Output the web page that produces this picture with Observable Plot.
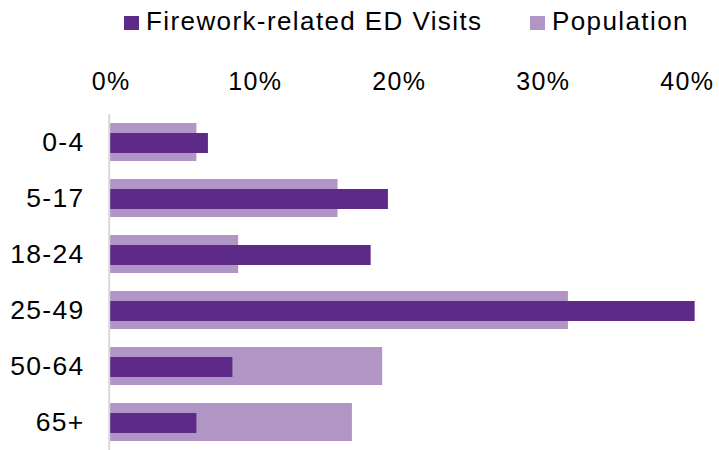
<!DOCTYPE html>
<html>
<head>
<meta charset="utf-8">
<script src="https://cdn.jsdelivr.net/npm/d3@7"></script>
<script src="https://cdn.jsdelivr.net/npm/@observablehq/plot@0.6"></script>
<style>
  html, body { margin: 0; padding: 0; background: #fff; }
  body { width: 719px; height: 450px; overflow: hidden; font-family: "Liberation Sans", Arial, sans-serif; }
  #legend { height: 42px; position: relative; font-size: 26px; letter-spacing: 1.4px; color: #000; }
  .item { position: absolute; top: 0; height: 42px; line-height: 42px; white-space: nowrap; }
  .sw { display: inline-block; width: 15px; height: 14px; margin-right: 7px; vertical-align: 0px; }
  svg { display: block; }
</style>
</head>
<body>
<div id="legend"></div>
<div id="chart"></div>
<script>
const ageGroups = ["0-4", "5-17", "18-24", "25-49", "50-64", "65+"];
const edVisits = [0.068, 0.193, 0.181, 0.406, 0.085, 0.060];
const population = [0.060, 0.158, 0.089, 0.318, 0.189, 0.168];
const xTicks = [0, 0.1, 0.2, 0.3, 0.4];
const seriesNames = ["Firework-related ED Visits", "Population"];
const seriesColors = ["#5e2a88", "#b095c5"];

const popData = ageGroups.map((g, i) => ({group: g, value: population[i]}));
const edData = ageGroups.map((g, i) => ({group: g, value: edVisits[i]}));

// legend
const legend = document.getElementById("legend");
const legendLeft = [124, 530];
seriesNames.forEach((name, i) => {
  const item = document.createElement("div");
  item.className = "item";
  item.style.left = legendLeft[i] + "px";
  const sw = document.createElement("span");
  sw.className = "sw";
  sw.style.background = seriesColors[i];
  item.appendChild(sw);
  item.appendChild(document.createTextNode(name));
  legend.appendChild(item);
});

const chart = Plot.plot({
  width: 719,
  height: 408,
  marginTop: 72,
  marginBottom: 0,
  marginLeft: 110,
  marginRight: 4.2,
  style: {fontFamily: "'Liberation Sans', Arial, sans-serif", color: "#000", background: "#fff", letterSpacing: "1.3px"},
  x: {domain: [0, 0.42], axis: null},
  y: {domain: ageGroups, padding: 0, axis: null},
  marks: [
    Plot.axisX({anchor: "top", ticks: xTicks, tickSize: 0, tickPadding: 25, fontSize: 25, dx: 0.7,
      tickFormat: d => Math.round(d * 100) + "%", label: null}),
    Plot.axisY({anchor: "left", tickSize: 0, tickPadding: 26, fontSize: 26.5, label: null}),
    Plot.barX(popData, {y: "group", x: "value", fill: seriesColors[1], insetTop: 9, insetBottom: 9}),
    Plot.barX(edData, {y: "group", x: "value", fill: seriesColors[0], insetTop: 19, insetBottom: 17}),
    Plot.ruleX([0], {stroke: "#d9d9d9", strokeWidth: 2, dx: -1.3})
  ]
});
document.getElementById("chart").appendChild(chart);
</script>
</body>
</html>
